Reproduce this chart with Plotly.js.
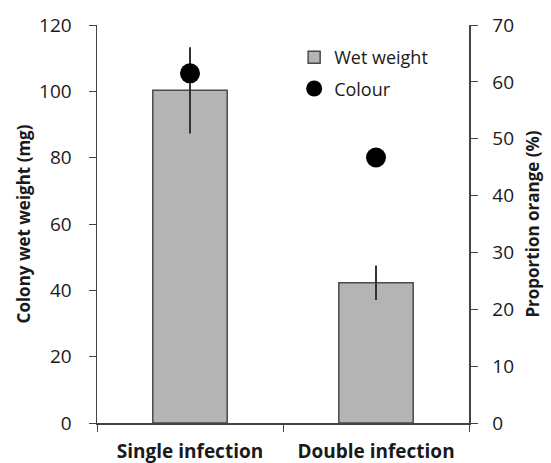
<!DOCTYPE html>
<html><head><meta charset="utf-8">
<script src="https://cdn.plot.ly/plotly-3.0.1.min.js"></script>
<style>body{margin:0;background:#fff}#c{width:551px;height:463px}</style>
</head><body><div id="c"></div>
<script>
const categories = ["Single infection", "Double infection"];
const wetWeight = [100.3, 42.3];
const wetWeightErr = [13, 5.2];
const colourPct = [61.5, 46.7];

const font = "Open Sans, Lato, sans-serif";
const traces = [
  {type: "bar", x: categories, y: wetWeight, name: "Wet weight", width: 0.4, legendgroup: "a",
   marker: {color: "#b4b4b4", line: {color: "#4a4a4a", width: 1.5}},
   error_y: {type: "data", array: wetWeightErr, visible: true, color: "#333", thickness: 2, width: 0}},
  {type: "scatter", mode: "markers", x: categories, y: colourPct, name: "Colour", yaxis: "y2", legendgroup: "b",
   marker: {color: "#000", size: 20}}
];
const layout = {
  width: 551, height: 463,
  margin: {l: 97, r: 82, t: 25, b: 40},
  paper_bgcolor: "#fff", plot_bgcolor: "#fff",
  font: {family: font, color: "#1a1a1a", size: 18},
  showlegend: true,
  legend: {x: 0.53, y: 0.965, xanchor: "left", yanchor: "top", bgcolor: "rgba(0,0,0,0)", font: {size: 18}, tracegroupgap: 5, itemwidth: 30},
  xaxis: {type: "category", showline: true, linecolor: "#444", linewidth: 1.5, ticks: "outside", tickson: "boundaries", ticklen: 7, tickcolor: "#444",
          tickfont: {size: 19, family: font, weight: "bold"}, ticklabelstandoff: 11, showgrid: false, zeroline: false, range: [-0.5, 1.5]},
  yaxis: {range: [0, 120], dtick: 20, showline: true, linecolor: "#444", linewidth: 1.5, ticks: "outside", ticklen: 7, tickcolor: "#444",
          showgrid: false, zeroline: false, tickfont: {size: 19}, ticklabelstandoff: 13,
          title: {text: "Colony wet weight (mg)", font: {size: 17, weight: "bold"}, standoff: 4}},
  yaxis2: {range: [0, 70], dtick: 10, overlaying: "y", side: "right", showline: true, linecolor: "#444", linewidth: 1.5, ticks: "outside", ticklen: 7, tickcolor: "#444",
           showgrid: false, zeroline: false, tickfont: {size: 19}, ticklabelstandoff: 11,
           title: {text: "Proportion orange (%)", font: {size: 17, weight: "bold"}, standoff: 14}}
};
Plotly.newPlot("c", traces, layout, {displayModeBar: false, staticPlot: true});
</script></body></html>
